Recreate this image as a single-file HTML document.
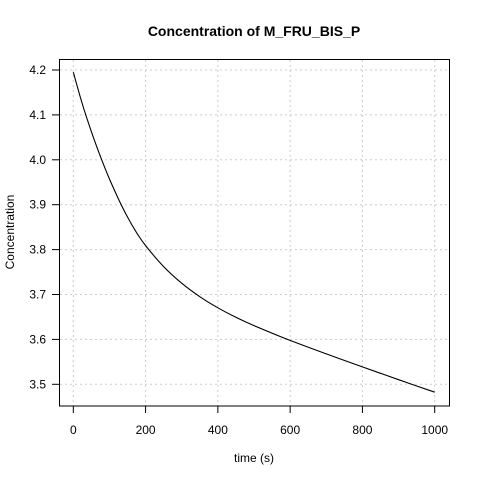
<!DOCTYPE html>
<html><head><meta charset="utf-8"><style>
body{margin:0;background:#fff}
svg{display:block;font-family:"Liberation Sans",Arial,sans-serif}
</style></head><body>
<svg id="chart" width="480" height="480">
<text x="254" y="36" font-size="14" font-weight="bold" text-anchor="middle">Concentration of M_FRU_BIS_P</text>
<text x="254" y="462" font-size="12" text-anchor="middle">time (s)</text>
<text transform="translate(14,232) rotate(-90)" font-size="12" text-anchor="middle">Concentration</text>
<g id="grid"></g>
<g id="axes"></g>
<path id="line" fill="none" stroke="#000" stroke-width="1.1" stroke-linejoin="round"/>
<rect x="59.5" y="59.5" width="390" height="346.5" fill="none" stroke="#000"/>
</svg>
<script>
const times=[0,25,50,75,100,125,150,175,200,250,300,350,400,450,500,600,700,800,900,1000];
const values=[4.195,4.1244,4.0625,4.0075,3.9575,3.9125,3.8725,3.8379,3.8089,3.7621,3.7251,3.6951,3.6703,3.6493,3.6308,3.5978,3.5678,3.5388,3.5103,3.4823];
const xTicks=[0,200,400,600,800,1000];
const yTicks=[3.5,3.6,3.7,3.8,3.9,4.0,4.1,4.2];
const xs=v=>73.3+v*0.3614;
const ys=v=>384.3-(v-3.5)*449;
const ns='http://www.w3.org/2000/svg';
const grid=document.getElementById('grid'),axes=document.getElementById('axes');
function mk(tag,attrs,parent){const e=document.createElementNS(ns,tag);for(const k in attrs)e.setAttribute(k,attrs[k]);parent.appendChild(e);return e;}
xTicks.forEach(t=>{const x=xs(t);
const g=mk('line',{x1:x,x2:x,y1:60,y2:406,stroke:'#ccc','stroke-dasharray':'2,3'},grid);


const tk=mk('line',{x1:x,x2:x,y1:406,y2:413,stroke:'#000'},axes);


const l=mk('text',{x:x,y:434,'font-size':12,'text-anchor':'middle'},axes);l.textContent=t;


});
yTicks.forEach(t=>{const y=ys(t);
const g=mk('line',{x1:60,x2:449,y1:y,y2:y,stroke:'#ccc','stroke-dasharray':'2,3'},grid);


const tk=mk('line',{x1:52,x2:59,y1:y,y2:y,stroke:'#000'},axes);


const l=mk('text',{x:46,y:y+4,'font-size':12,'text-anchor':'end'},axes);l.textContent=t.toFixed(1);


});
const pts=times.map((t,i)=>[xs(t),ys(values[i])]);
let d='M'+pts[0][0].toFixed(1)+','+pts[0][1].toFixed(1);
for(let i=0;i<pts.length-1;i++){
 const p0=pts[Math.max(i-1,0)],p1=pts[i],p2=pts[i+1],p3=pts[Math.min(i+2,pts.length-1)];
 const c1=[p1[0]+(p2[0]-p0[0])/6,p1[1]+(p2[1]-p0[1])/6];
 const c2=[p2[0]-(p3[0]-p1[0])/6,p2[1]-(p3[1]-p1[1])/6];
 d+='C'+c1.map(v=>v.toFixed(1)).join(',')+' '+c2.map(v=>v.toFixed(1)).join(',')+' '+p2.map(v=>v.toFixed(1)).join(',');
}
document.getElementById('line').setAttribute('d',d);
</script>
</body></html>
